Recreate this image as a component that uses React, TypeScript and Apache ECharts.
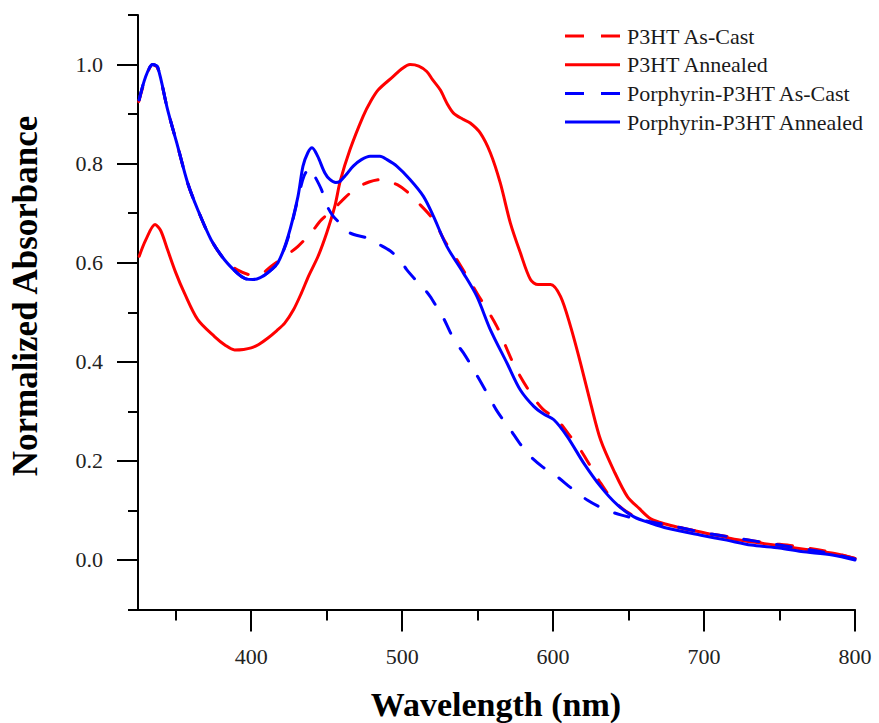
import React, { useEffect, useRef } from "react";
import * as echarts from "echarts";

// ---- Data ----
const wlP3htCast = [325.5, 330, 334.7, 338, 344.6, 351.3, 357.9, 364.6, 373.5, 382.3, 391.1, 401, 408, 413.3, 422, 431, 440, 446.6, 454.3, 462, 469.8, 478, 486.4, 490.8, 497, 503, 509.7, 520.7, 528, 536.3, 549.5, 562.8, 573.9, 585, 593, 602.7, 610, 618.2, 631.5, 640, 650, 665, 680, 700, 720, 740, 760, 780, 800];
const absP3htCast = [0.925, 0.972, 1.0, 0.993, 0.909, 0.835, 0.761, 0.707, 0.646, 0.606, 0.585, 0.575, 0.58, 0.593, 0.612, 0.633, 0.662, 0.687, 0.707, 0.731, 0.751, 0.763, 0.768, 0.764, 0.757, 0.744, 0.724, 0.687, 0.645, 0.606, 0.539, 0.471, 0.395, 0.337, 0.305, 0.283, 0.255, 0.222, 0.155, 0.12, 0.095, 0.075, 0.068, 0.055, 0.045, 0.035, 0.028, 0.018, 0.003];

const wlP3htAnneal = [325.8, 330, 336.3, 340, 344.6, 350, 355.7, 364.6, 375.7, 383, 389, 395, 400, 405, 411.1, 417, 422.2, 428, 433.3, 438, 444.3, 450, 455.4, 459, 465.4, 474.2, 479, 484.2, 494.1, 500, 505.2, 511, 516.3, 520, 525.2, 530, 534, 540, 545.1, 551.7, 558.4, 565, 571.7, 578.3, 585, 590, 598.3, 604.9, 611.5, 618.2, 624.8, 631.5, 640.3, 649.2, 657, 664.7, 675, 686.8, 700, 720, 740, 753.3, 770, 786.5, 800];
const absP3htAnneal = [0.613, 0.645, 0.677, 0.665, 0.626, 0.58, 0.539, 0.485, 0.451, 0.433, 0.424, 0.425, 0.428, 0.435, 0.448, 0.463, 0.478, 0.505, 0.539, 0.573, 0.613, 0.66, 0.714, 0.765, 0.828, 0.896, 0.925, 0.949, 0.976, 0.992, 1.0, 0.997, 0.986, 0.97, 0.949, 0.92, 0.902, 0.89, 0.882, 0.862, 0.822, 0.761, 0.68, 0.62, 0.566, 0.556, 0.556, 0.532, 0.472, 0.397, 0.317, 0.242, 0.18, 0.128, 0.104, 0.083, 0.072, 0.063, 0.055, 0.042, 0.033, 0.027, 0.02, 0.013, 0.003];

const wlPorCast = [325.8, 330, 334.7, 338, 344.6, 351.3, 357.9, 364.6, 373.5, 382.3, 391.1, 396, 401.1, 406, 411.1, 417.7, 424.4, 431, 435, 438.8, 442, 446.6, 449.9, 454, 458.7, 465.4, 476.5, 485.3, 492, 498.6, 503, 509, 514.1, 518.5, 523, 527.4, 531.8, 536, 540.6, 546.2, 556.2, 563, 571.7, 578, 585, 593, 602.7, 612, 622.6, 633, 644.8, 660, 680, 700, 720, 750, 780, 800];
const absPorCast = [0.929, 0.975, 1.0, 0.995, 0.909, 0.835, 0.761, 0.707, 0.646, 0.606, 0.578, 0.568, 0.566, 0.57, 0.58, 0.6, 0.65, 0.73, 0.775, 0.791, 0.775, 0.747, 0.717, 0.695, 0.68, 0.66, 0.65, 0.636, 0.624, 0.606, 0.586, 0.565, 0.549, 0.532, 0.51, 0.488, 0.46, 0.437, 0.418, 0.39, 0.337, 0.3, 0.263, 0.235, 0.209, 0.188, 0.168, 0.145, 0.121, 0.104, 0.091, 0.08, 0.068, 0.055, 0.045, 0.03, 0.015, 0.002];

const wlPorAnneal = [325.8, 330, 334.7, 338, 344.6, 351.3, 357.9, 364.6, 373.5, 382.3, 391.1, 396, 401.1, 406, 411.1, 417.7, 424.4, 431, 434.3, 437.5, 440.3, 444, 448.8, 452.1, 456, 458.7, 463, 467.6, 473, 478.7, 485.3, 490, 496.4, 505.2, 514.1, 520.7, 529.6, 540.6, 549.5, 558.4, 569.5, 578.3, 587.2, 594, 600.5, 609.4, 620.4, 631.5, 642.6, 653.6, 665, 675.8, 698, 715, 731.2, 750, 764.4, 785, 800];
const absPorAnneal = [0.929, 0.975, 1.0, 0.995, 0.909, 0.835, 0.761, 0.707, 0.646, 0.606, 0.578, 0.568, 0.566, 0.57, 0.58, 0.6, 0.653, 0.734, 0.795, 0.822, 0.832, 0.815, 0.781, 0.768, 0.762, 0.764, 0.778, 0.795, 0.808, 0.815, 0.815, 0.808, 0.795, 0.768, 0.734, 0.694, 0.633, 0.579, 0.532, 0.465, 0.397, 0.343, 0.31, 0.294, 0.283, 0.249, 0.195, 0.148, 0.111, 0.087, 0.074, 0.064, 0.05, 0.04, 0.03, 0.024, 0.017, 0.01, 0.0];

const seriesNames = ["P3HT As-Cast", "P3HT Annealed", "Porphyrin-P3HT As-Cast", "Porphyrin-P3HT Annealed"];
const seriesColors = ["#ff0000", "#ff0000", "#0000ff", "#0000ff"];
const seriesDashed = [true, false, true, false];
const xMajorTicks = [400, 500, 600, 700, 800];
const xMinorTicks = [350, 450, 550, 650, 750];
const yMajorTicks = [0, 0.2, 0.4, 0.6, 0.8, 1.0];
const yMinorTicks = [-0.1, 0.1, 0.3, 0.5, 0.7, 0.9, 1.1];

const zip = (xs: number[], ys: number[]) => xs.map((x, i) => [x, ys[i]]);

const FONT = "Liberation Serif";
const DASH = [15, 18];

export default function App() {
  const ref = useRef<HTMLDivElement>(null);
  useEffect(() => {
    if (!ref.current) return;
    const chart = echarts.init(ref.current, null, { renderer: "svg" });
    const axisLineStyle = { color: "#000", width: 2 };
    const mkSeries = (i: number, data: number[][]) => ({
      name: seriesNames[i],
      type: "line",
      data,
      xAxisIndex: 0,
      yAxisIndex: 0,
      showSymbol: false,
      symbol: "none",
      smooth: 0.3,
      z: 2 + i,
      lineStyle: { color: seriesColors[i], width: 3, type: seriesDashed[i] ? DASH : "solid", cap: "round", join: "round" },
      itemStyle: { color: seriesColors[i] },
    });

    // manual legend (line sample + text)
    const legendX = 565;
    const legendTop = 36;
    const legendStep = 28.7;
    const legendGraphics: any[] = [];
    seriesNames.forEach((name, i) => {
      const y = legendTop + i * legendStep;
      legendGraphics.push({
        type: "line",
        shape: { x1: legendX, y1: y, x2: legendX + 55, y2: y },
        style: {
          stroke: seriesColors[i],
          lineWidth: 3,
          lineDash: seriesDashed[i] ? [19, 17] : null,
        },
      });
      legendGraphics.push({
        type: "text",
        x: legendX + 62,
        y: y,
        style: {
          text: name,
          font: `22px ${FONT}`,
          fill: "#1a1a1a",
          align: "left",
          verticalAlign: "middle",
          textAlign: "left",
          textVerticalAlign: "middle",
        },
      });
    });

    const labelFmtY = (v: number) => v.toFixed(1);
    const labelStyle = {
      fontFamily: FONT,
      fontSize: 22,
      fontWeight: "normal",
      color: "#222",
    };

    chart.setOption({
      animation: false,
      backgroundColor: "#ffffff",
      textStyle: { fontFamily: FONT, fontSize: 22 },
      grid: { left: 138, right: 24, top: 15, bottom: 113.5, containLabel: false, outerBoundsMode: "none" },
      xAxis: [
        {
          type: "value",
          min: 325,
          max: 800,
          position: "bottom",
          axisLine: { show: true, onZero: false, lineStyle: axisLineStyle },
          axisTick: { show: true, inside: false, length: 22, customValues: xMajorTicks, lineStyle: axisLineStyle },
          axisLabel: { show: true, customValues: xMajorTicks, margin: 36, ...labelStyle },
          splitLine: { show: false },
        },
        {
          type: "value",
          min: 325,
          max: 800,
          position: "bottom",
          axisLine: { show: false, onZero: false },
          axisTick: { show: true, inside: false, length: 11, customValues: xMinorTicks, lineStyle: axisLineStyle },
          axisLabel: { show: false },
          splitLine: { show: false },
        },
      ],
      yAxis: [
        {
          type: "value",
          min: -0.1,
          max: 1.1,
          position: "left",
          axisLine: { show: true, onZero: false, lineStyle: axisLineStyle },
          axisTick: { show: true, inside: false, length: 21, customValues: yMajorTicks, lineStyle: axisLineStyle },
          axisLabel: { show: true, customValues: yMajorTicks, margin: 35, formatter: labelFmtY, ...labelStyle },
          splitLine: { show: false },
        },
        {
          type: "value",
          min: -0.1,
          max: 1.1,
          position: "left",
          offset: 0,
          axisLine: { show: false, onZero: false },
          axisTick: { show: true, inside: false, length: 10, customValues: yMinorTicks, lineStyle: axisLineStyle },
          axisLabel: { show: false },
          splitLine: { show: false },
        },
      ],
      graphic: [
        {
          type: "text",
          x: 496,
          y: 704,
          style: {
            text: "Wavelength (nm)",
            font: `bold 34px ${FONT}`,
            fill: "#000",
            align: "center",
            verticalAlign: "middle",
            textAlign: "center",
            textVerticalAlign: "middle",
          },
        },
        {
          type: "text",
          x: 25,
          y: 296,
          rotation: Math.PI / 2,
          style: {
            text: "Normalized Absorbance",
            font: `bold 35px ${FONT}`,
            fill: "#000",
            align: "center",
            verticalAlign: "middle",
            textAlign: "center",
            textVerticalAlign: "middle",
          },
        },
        ...legendGraphics,
      ],
      series: [
        mkSeries(0, zip(wlP3htCast, absP3htCast)),
        mkSeries(1, zip(wlP3htAnneal, absP3htAnneal)),
        mkSeries(2, zip(wlPorCast, absPorCast)),
        mkSeries(3, zip(wlPorAnneal, absPorAnneal)),
      ],
    });
    return () => chart.dispose();
  }, []);
  return (
    <div
      ref={ref}
      style={{ position: "absolute", left: 0, top: 0, width: 879, height: 723, background: "#fff" }}
    />
  );
}
